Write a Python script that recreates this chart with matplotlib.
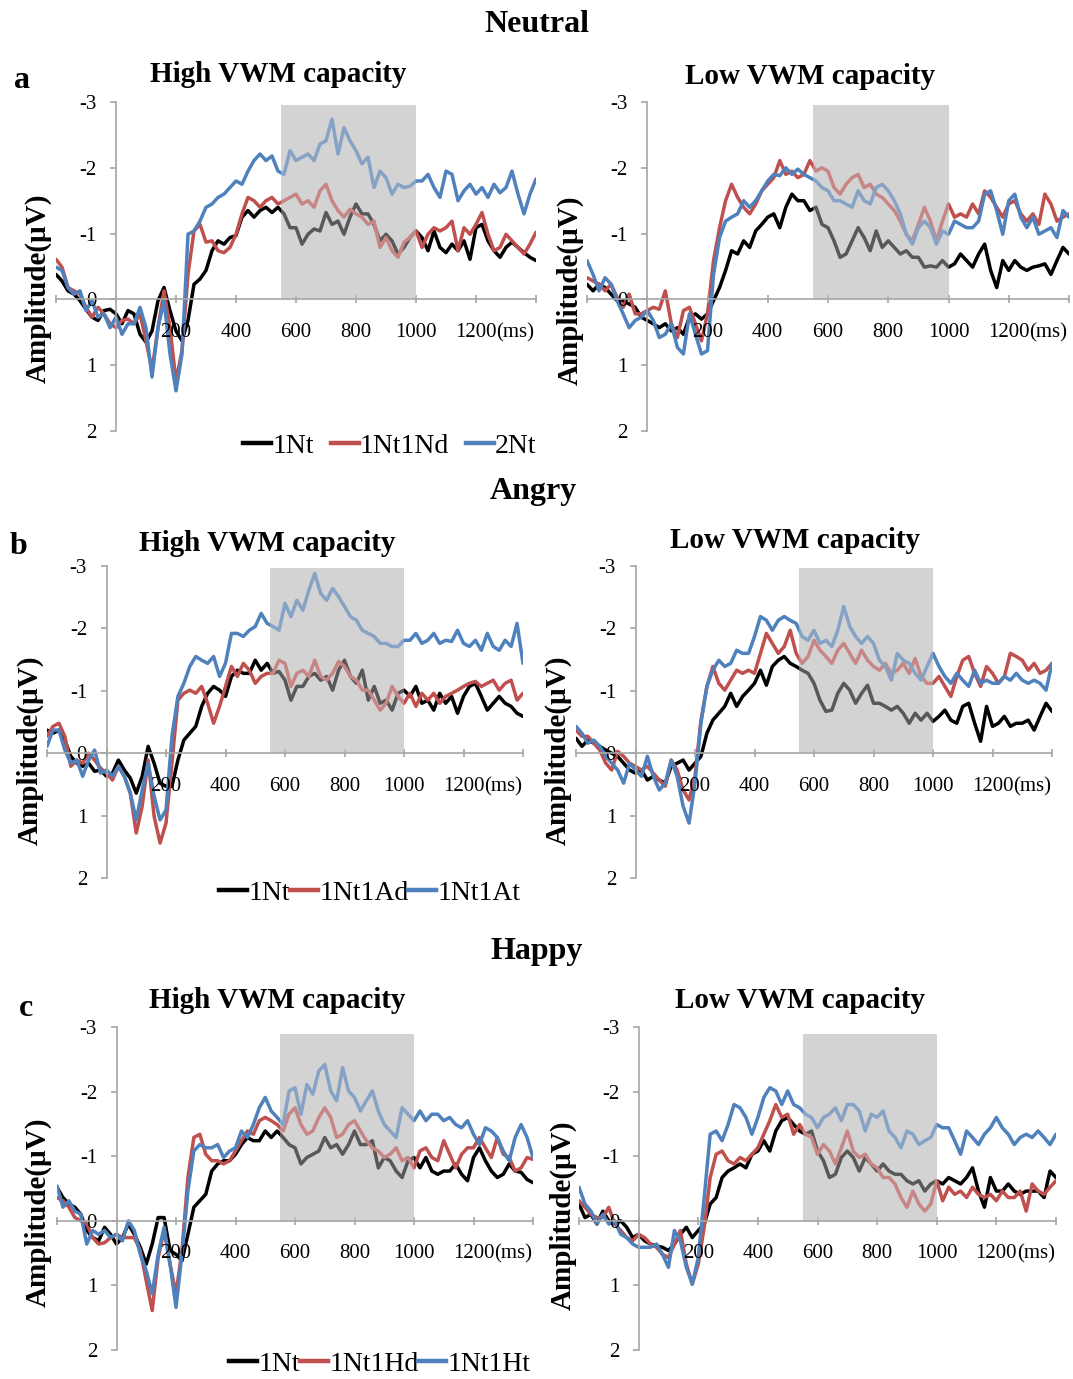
import matplotlib
matplotlib.use("Agg")
import matplotlib.pyplot as plt
from matplotlib.patches import Rectangle
from matplotlib.lines import Line2D
from matplotlib.transforms import offset_copy

plt.rcParams['font.family'] = ['Liberation Serif', 'DejaVu Serif']
plt.rcParams['axes.unicode_minus'] = False

# time axis of the ERP traces (ms), sampled every 20 ms
times = list(range(-200, 1401, 20))

# ---- Neutral, high VWM capacity
nh_1nt = [-0.38, -0.28, -0.13, -0.08, 0.02, 0.15, 0.27, 0.32, 0.17, 0.15,
          0.22, 0.37, 0.17, 0.22, 0.53, 0.65, 0.48, 0.02, -0.18, 0.17,
          0.48, 0.63, 0.32, -0.23, -0.31, -0.44, -0.74, -0.89, -0.84, -0.94,
          -0.97, -1.25, -1.35, -1.25, -1.35, -1.40, -1.32, -1.40, -1.30, -1.09,
          -1.09, -0.84, -0.99, -1.07, -1.04, -1.32, -1.14, -1.19, -0.99, -1.25,
          -1.45, -1.30, -1.30, -1.14, -0.89, -0.99, -0.89, -0.69, -0.79, -0.94,
          -1.04, -0.94, -0.74, -1.04, -0.79, -0.71, -0.84, -0.74, -0.89, -0.61,
          -1.09, -1.14, -0.89, -0.74, -0.64, -0.79, -0.87, -0.79, -0.71, -0.64,
          -0.59]
nh_1nt1nd = [-0.61, -0.49, -0.18, -0.13, -0.08, 0.12, 0.27, 0.12, 0.22, 0.37,
             0.43, 0.32, 0.30, 0.37, 0.22, 0.63, 1.08, 0.43, -0.13, 0.43,
             1.24, 0.78, -0.38, -1.04, -1.14, -0.87, -0.89, -0.74, -0.71, -0.79,
             -0.99, -1.30, -1.55, -1.50, -1.40, -1.50, -1.55, -1.45, -1.50, -1.55,
             -1.60, -1.45, -1.50, -1.40, -1.65, -1.75, -1.50, -1.35, -1.25, -1.37,
             -1.30, -1.25, -1.14, -1.19, -0.79, -0.94, -0.74, -0.64, -0.87, -0.94,
             -1.04, -0.79, -0.99, -1.09, -1.04, -1.09, -1.19, -0.74, -1.09, -0.99,
             -1.14, -1.32, -0.99, -0.74, -0.79, -0.99, -0.89, -0.79, -0.69, -0.84,
             -1.02]
nh_2nt = [-0.49, -0.44, -0.18, -0.08, -0.13, 0.17, 0.02, 0.27, 0.22, 0.43,
          0.27, 0.53, 0.37, 0.37, 0.12, 0.43, 1.18, 0.43, 0.02, 0.83,
          1.39, 0.83, -0.99, -1.04, -1.19, -1.40, -1.45, -1.55, -1.60, -1.70,
          -1.80, -1.75, -1.95, -2.11, -2.21, -2.11, -2.18, -1.95, -1.90, -2.26,
          -2.11, -2.16, -2.21, -2.11, -2.36, -2.41, -2.74, -2.21, -2.61, -2.41,
          -2.26, -2.06, -2.16, -1.70, -1.95, -1.85, -1.60, -1.75, -1.70, -1.72,
          -1.80, -1.80, -1.90, -1.70, -1.55, -1.95, -1.90, -1.50, -1.65, -1.75,
          -1.60, -1.70, -1.55, -1.75, -1.62, -1.70, -1.95, -1.60, -1.30, -1.60,
          -1.83]

# ---- Neutral, low VWM capacity
nl_1nt = [-0.23, -0.13, -0.23, -0.18, -0.08, 0.02, 0.02, 0.07, 0.12, 0.27,
          0.32, 0.37, 0.43, 0.37, 0.48, 0.43, 0.53, 0.27, 0.22, 0.30,
          0.22, 0.02, -0.18, -0.44, -0.74, -0.69, -0.89, -0.79, -1.04, -1.14,
          -1.25, -1.30, -1.09, -1.40, -1.60, -1.50, -1.50, -1.35, -1.40, -1.14,
          -1.09, -0.89, -0.64, -0.69, -0.89, -1.09, -0.94, -0.74, -1.04, -0.79,
          -0.89, -0.79, -0.69, -0.74, -0.64, -0.64, -0.49, -0.51, -0.49, -0.59,
          -0.49, -0.54, -0.69, -0.59, -0.49, -0.69, -0.84, -0.44, -0.18, -0.59,
          -0.44, -0.59, -0.49, -0.44, -0.49, -0.51, -0.54, -0.38, -0.59, -0.79,
          -0.69]
nl_1nt1nd = [-0.33, -0.28, -0.23, -0.13, -0.23, -0.03, 0.12, -0.08, 0.22, 0.22,
             0.17, 0.12, 0.15, -0.13, 0.37, 0.58, 0.17, 0.12, 0.37, 0.63,
             0.22, -0.59, -1.09, -1.50, -1.75, -1.55, -1.40, -1.30, -1.45, -1.65,
             -1.75, -1.85, -2.11, -1.90, -1.95, -1.85, -1.90, -2.11, -1.95, -2.00,
             -1.95, -1.70, -1.60, -1.75, -1.85, -1.90, -1.70, -1.75, -1.60, -1.55,
             -1.45, -1.35, -1.19, -0.99, -0.89, -1.14, -1.40, -1.19, -0.89, -1.19,
             -1.45, -1.25, -1.30, -1.25, -1.45, -1.30, -1.65, -1.55, -1.40, -1.25,
             -1.45, -1.50, -1.30, -1.19, -1.30, -1.14, -1.60, -1.45, -1.19, -1.25,
             -1.30]
nl_2nt = [-0.59, -0.38, -0.13, -0.33, -0.23, 0.02, 0.22, 0.43, 0.32, 0.27,
          0.17, 0.32, 0.58, 0.53, 0.37, 0.73, 0.83, 0.22, 0.53, 0.83,
          0.78, -0.38, -0.94, -1.19, -1.25, -1.30, -1.50, -1.40, -1.50, -1.65,
          -1.80, -1.90, -1.88, -2.00, -1.90, -1.98, -1.90, -1.85, -1.80, -1.70,
          -1.65, -1.50, -1.50, -1.45, -1.40, -1.65, -1.50, -1.45, -1.70, -1.75,
          -1.65, -1.50, -1.30, -0.99, -0.84, -1.09, -1.19, -1.09, -0.84, -1.04,
          -0.99, -1.19, -1.14, -1.09, -1.09, -1.19, -1.60, -1.65, -1.35, -0.99,
          -1.50, -1.60, -1.25, -1.09, -1.25, -0.99, -1.04, -1.09, -0.94, -1.35,
          -1.25]

# ---- Angry, high VWM capacity
ah_1nt = [-0.37, -0.32, -0.37, -0.21, 0.05, 0.16, 0.21, 0.16, 0.29, 0.27,
          0.37, 0.32, 0.11, 0.27, 0.40, 0.64, 0.37, -0.11, 0.16, 0.48,
          0.53, 0.53, 0.11, -0.21, -0.32, -0.43, -0.75, -0.96, -1.07, -1.01,
          -0.91, -1.23, -1.33, -1.28, -1.28, -1.49, -1.33, -1.44, -1.28, -1.31,
          -1.17, -0.85, -1.07, -1.07, -1.23, -1.28, -1.17, -1.23, -1.01, -1.33,
          -1.49, -1.23, -1.12, -1.33, -0.85, -1.07, -0.80, -0.85, -0.69, -0.96,
          -1.01, -0.91, -1.07, -0.80, -0.85, -0.69, -0.96, -0.80, -0.91, -0.64,
          -0.91, -1.07, -1.12, -0.91, -0.69, -0.80, -0.91, -0.80, -0.75, -0.64,
          -0.59]
ah_1nt1ad = [-0.27, -0.43, -0.48, -0.27, 0.21, 0.11, 0.16, 0.00, 0.11, 0.24,
             0.32, 0.43, 0.21, 0.37, 0.64, 1.28, 0.85, 0.11, 1.01, 1.44,
             1.12, 0.16, -0.85, -0.96, -1.01, -0.96, -1.07, -0.80, -0.48, -0.75,
             -1.07, -1.39, -1.23, -1.44, -1.33, -1.12, -1.23, -1.28, -1.28, -1.49,
             -1.44, -1.07, -1.28, -1.33, -1.23, -1.49, -1.23, -1.17, -1.28, -1.47,
             -1.39, -1.23, -1.17, -1.01, -1.01, -0.85, -0.69, -0.80, -1.07, -0.91,
             -0.80, -0.96, -0.75, -0.96, -0.85, -0.96, -0.80, -0.91, -0.96, -1.01,
             -1.07, -1.12, -1.15, -1.07, -1.12, -1.17, -1.01, -1.12, -1.17, -0.85,
             -0.96]
ah_1nt1at = [-0.11, -0.37, -0.37, -0.05, 0.16, 0.11, 0.37, 0.11, -0.05, 0.32,
             0.27, 0.37, 0.21, 0.37, 0.64, 1.07, 0.59, 0.16, 0.69, 1.07,
             0.91, -0.27, -0.91, -1.12, -1.39, -1.55, -1.49, -1.44, -1.55, -1.23,
             -1.44, -1.92, -1.92, -1.87, -1.97, -2.03, -2.24, -2.08, -2.03, -1.97,
             -2.40, -2.19, -2.45, -2.29, -2.61, -2.88, -2.56, -2.45, -2.64, -2.51,
             -2.35, -2.19, -2.13, -1.97, -1.92, -1.87, -1.76, -1.76, -1.71, -1.71,
             -1.81, -1.81, -1.92, -1.76, -1.81, -1.92, -1.76, -1.81, -1.79, -1.97,
             -1.76, -1.71, -1.81, -1.65, -1.92, -1.71, -1.65, -1.81, -1.71, -2.08,
             -1.44]

# ---- Angry, low VWM capacity
al_1nt = [-0.24, -0.11, -0.21, -0.16, -0.11, -0.05, 0.00, 0.05, 0.16, 0.27,
          0.32, 0.27, 0.43, 0.37, 0.43, 0.48, 0.21, 0.16, 0.11, 0.27,
          0.16, 0.05, -0.32, -0.53, -0.64, -0.75, -0.96, -0.75, -0.91, -1.01,
          -1.12, -1.33, -1.09, -1.39, -1.49, -1.55, -1.44, -1.39, -1.33, -1.28,
          -1.12, -0.85, -0.67, -0.69, -0.96, -1.12, -1.01, -0.80, -0.96, -1.09,
          -0.80, -0.80, -0.75, -0.69, -0.75, -0.64, -0.48, -0.64, -0.53, -0.64,
          -0.51, -0.59, -0.69, -0.53, -0.48, -0.75, -0.80, -0.48, -0.19, -0.75,
          -0.43, -0.48, -0.59, -0.43, -0.48, -0.48, -0.53, -0.37, -0.59, -0.80,
          -0.67]
al_1nt1ad = [-0.37, -0.27, -0.27, -0.16, -0.05, 0.16, 0.27, -0.03, 0.05, 0.16,
             0.21, 0.27, 0.21, 0.32, 0.43, 0.53, 0.11, 0.27, 0.59, 0.75,
             0.37, -0.53, -1.07, -1.39, -1.12, -1.01, -1.17, -1.33, -1.28, -1.33,
             -1.28, -1.60, -1.92, -1.76, -1.60, -1.71, -1.97, -1.60, -1.44, -1.55,
             -1.81, -1.65, -1.55, -1.44, -1.65, -1.76, -1.60, -1.44, -1.65, -1.49,
             -1.39, -1.33, -1.44, -1.28, -1.33, -1.44, -1.28, -1.52, -1.23, -1.12,
             -1.12, -1.23, -1.07, -0.91, -1.23, -1.49, -1.55, -1.28, -1.07, -1.39,
             -1.28, -1.12, -1.23, -1.60, -1.55, -1.49, -1.33, -1.44, -1.28, -1.33,
             -1.44]
al_1nt1at = [-0.43, -0.32, -0.16, -0.21, -0.11, 0.05, 0.16, 0.27, 0.48, 0.16,
             0.27, 0.37, 0.05, 0.37, 0.59, 0.48, 0.11, 0.37, 0.85, 1.12,
             0.48, -0.48, -1.07, -1.33, -1.49, -1.39, -1.44, -1.65, -1.60, -1.60,
             -1.87, -2.19, -2.13, -1.97, -2.13, -2.19, -2.13, -2.08, -1.87, -1.81,
             -1.97, -1.76, -1.81, -1.71, -1.97, -2.35, -2.03, -1.87, -1.76, -1.87,
             -1.76, -1.49, -1.39, -1.17, -1.60, -1.49, -1.44, -1.28, -1.17, -1.39,
             -1.60, -1.39, -1.23, -1.12, -1.28, -1.17, -1.07, -1.33, -1.12, -1.17,
             -1.12, -1.12, -1.23, -1.17, -1.28, -1.17, -1.12, -1.17, -1.12, -1.01,
             -1.44]

# ---- Happy, high VWM capacity
hh_1nt = [-0.52, -0.36, -0.26, -0.21, -0.10, 0.15, 0.26, 0.31, 0.10, 0.21,
          0.36, 0.26, 0.05, 0.21, 0.41, 0.67, 0.36, -0.05, -0.05, 0.46,
          0.52, 0.62, 0.21, -0.21, -0.31, -0.41, -0.77, -0.88, -0.93, -0.93,
          -1.03, -1.18, -1.29, -1.24, -1.24, -1.39, -1.29, -1.39, -1.29, -1.18,
          -1.13, -0.88, -0.98, -1.03, -1.08, -1.29, -1.13, -1.18, -1.03, -1.18,
          -1.39, -1.18, -1.18, -1.24, -0.82, -0.98, -0.93, -0.77, -0.67, -0.93,
          -0.98, -0.82, -0.98, -0.77, -0.72, -0.77, -0.77, -0.88, -0.72, -0.62,
          -0.98, -1.13, -0.93, -0.77, -0.67, -0.72, -0.88, -0.77, -0.75, -0.64,
          -0.59]
hh_1nt1hd = [-0.36, -0.31, -0.21, -0.05, 0.00, 0.05, 0.26, 0.36, 0.34, 0.26,
             0.21, 0.26, 0.26, 0.26, 0.46, 0.93, 1.39, 0.57, 0.15, 0.67,
             1.13, 0.46, -0.67, -1.29, -1.34, -1.03, -0.93, -0.93, -0.88, -0.93,
             -1.08, -1.24, -1.39, -1.34, -1.55, -1.60, -1.55, -1.49, -1.39, -1.65,
             -1.75, -1.49, -1.34, -1.39, -1.60, -1.75, -1.60, -1.29, -1.34, -1.49,
             -1.55, -1.39, -1.24, -1.13, -1.08, -0.98, -1.03, -1.13, -0.93, -0.98,
             -0.82, -1.08, -1.13, -0.98, -0.93, -1.24, -1.03, -0.82, -1.03, -1.13,
             -1.13, -1.29, -1.13, -0.98, -1.29, -1.03, -0.98, -0.77, -0.82, -0.98,
             -0.95]
hh_1nt1ht = [-0.54, -0.21, -0.31, -0.15, -0.10, 0.36, 0.15, 0.21, 0.15, 0.26,
             0.21, 0.31, 0.00, 0.15, 0.52, 0.77, 1.13, 0.52, 0.10, 0.67,
             1.34, 0.52, -0.46, -1.08, -1.18, -1.13, -1.13, -1.18, -0.98, -1.08,
             -1.13, -1.39, -1.29, -1.49, -1.75, -1.91, -1.70, -1.60, -1.49, -2.01,
             -2.06, -1.65, -2.11, -1.96, -2.32, -2.42, -2.01, -1.86, -2.37, -2.01,
             -1.91, -1.70, -1.86, -2.01, -1.70, -1.49, -1.39, -1.29, -1.75, -1.65,
             -1.55, -1.70, -1.55, -1.65, -1.65, -1.55, -1.60, -1.49, -1.44, -1.55,
             -1.34, -1.18, -1.44, -1.39, -1.29, -1.08, -0.93, -1.29, -1.49, -1.29,
             -0.98]

# ---- Happy, low VWM capacity
hl_1nt = [-0.26, -0.05, -0.10, 0.05, -0.15, 0.00, 0.05, 0.00, 0.10, 0.26,
          0.21, 0.31, 0.36, 0.39, 0.41, 0.46, 0.36, 0.21, 0.10, 0.26,
          0.15, 0.05, -0.26, -0.36, -0.67, -0.77, -0.82, -0.88, -0.82, -1.03,
          -1.08, -1.24, -1.08, -1.39, -1.55, -1.60, -1.49, -1.39, -1.34, -1.39,
          -1.08, -0.93, -0.67, -0.72, -0.98, -1.08, -0.98, -0.77, -0.98, -0.88,
          -0.77, -0.88, -0.77, -0.72, -0.72, -0.62, -0.57, -0.62, -0.46, -0.57,
          -0.62, -0.57, -0.67, -0.62, -0.57, -0.67, -0.82, -0.46, -0.21, -0.67,
          -0.46, -0.46, -0.57, -0.46, -0.41, -0.46, -0.46, -0.46, -0.36, -0.77,
          -0.67]
hl_1nt1hd = [-0.31, -0.21, -0.10, -0.05, -0.05, -0.21, 0.05, 0.15, 0.26, 0.31,
             0.21, 0.26, 0.36, 0.41, 0.52, 0.57, 0.36, 0.15, 0.67, 0.98,
             0.67, 0.10, -0.67, -1.03, -1.08, -0.93, -0.88, -0.98, -0.93, -1.03,
             -1.13, -1.34, -1.55, -1.80, -1.60, -1.65, -1.34, -1.49, -1.34, -1.29,
             -1.03, -1.18, -1.08, -0.88, -1.13, -1.39, -1.08, -0.98, -1.03, -0.88,
             -0.82, -0.67, -0.67, -0.57, -0.36, -0.21, -0.46, -0.26, -0.15, -0.26,
             -0.62, -0.31, -0.52, -0.41, -0.46, -0.36, -0.52, -0.41, -0.36, -0.41,
             -0.31, -0.46, -0.36, -0.36, -0.46, -0.15, -0.57, -0.46, -0.41, -0.52,
             -0.62]
hl_1nt1ht = [-0.52, -0.26, -0.15, 0.05, -0.10, 0.05, 0.00, 0.21, 0.26, 0.36,
             0.41, 0.41, 0.41, 0.36, 0.52, 0.72, 0.15, 0.31, 0.72, 0.98,
             0.57, -0.36, -1.34, -1.39, -1.24, -1.49, -1.80, -1.75, -1.60, -1.34,
             -1.60, -1.91, -2.06, -2.01, -1.80, -2.01, -1.80, -1.75, -1.65, -1.60,
             -1.44, -1.60, -1.65, -1.75, -1.55, -1.80, -1.80, -1.70, -1.39, -1.65,
             -1.60, -1.70, -1.39, -1.29, -1.13, -1.39, -1.34, -1.18, -1.24, -1.29,
             -1.49, -1.44, -1.44, -1.24, -1.03, -1.39, -1.29, -1.18, -1.34, -1.44,
             -1.60, -1.44, -1.34, -1.18, -1.29, -1.34, -1.29, -1.39, -1.29, -1.18,
             -1.34]

neutral_labels = ['1Nt', '1Nt1Nd', '2Nt']
angry_labels = ['1Nt', '1Nt1Ad', '1Nt1At']
happy_labels = ['1Nt', '1Nt1Hd', '1Nt1Ht']
x_ticks = [-200, 0, 200, 400, 600, 800, 1000, 1200, 1400]
x_ticklabels = ['', '', '200', '400', '600', '800', '1000', '1200', '']
y_ticks = [-3, -2, -1, 0, 1, 2]
window = (550, 1000)   # shaded time window (ms)

colors = ['#000000', '#C0504D', '#4F81BD']
shade = '#d3d3d3'
axis_col = '#a6a6a6'

W, H = 1073, 1379
fig = plt.figure(figsize=(W / 100, H / 100), dpi=100)


def px_axes(l, r, t, b):
    return fig.add_axes([l / W, 1 - b / H, (r - l) / W, (b - t) / H])


def panel(box, series, shade_top, label_xy):
    ax = px_axes(*box)
    ax.set_xlim(-200, 1400)
    ax.set_ylim(2, -3)
    ax.add_patch(Rectangle((window[0], 0), window[1] - window[0], shade_top,
                           facecolor=shade, edgecolor='none', zorder=0.5))
    for ys, c in zip(series, colors):
        ax.plot(times, ys, color=c, lw=2.5, zorder=2,
                solid_joinstyle='round', solid_capstyle='round')
    # translucent veil over the traces inside the window
    ax.add_patch(Rectangle((window[0], 0), window[1] - window[0], shade_top,
                           facecolor=shade, edgecolor='none', alpha=0.42, zorder=3))
    for s in ['top', 'right']:
        ax.spines[s].set_visible(False)
    ax.spines['left'].set_position(('data', 0))
    ax.spines['bottom'].set_position(('data', 0))
    for s in ['left', 'bottom']:
        ax.spines[s].set_color(axis_col)
        ax.spines[s].set_linewidth(1.2)
        ax.spines[s].set_zorder(4)
    ax.set_axisbelow(False)
    ax.set_xticks(x_ticks)
    ax.set_xticklabels(x_ticklabels)
    ax.set_yticks(y_ticks)
    ax.set_yticklabels([str(v) for v in y_ticks])
    ax.tick_params(axis='x', direction='inout', length=6, width=1.2,
                   color=axis_col, pad=14, labelsize=15)
    ax.tick_params(axis='y', direction='out', length=4, width=1.2,
                   color=axis_col, pad=10, labelsize=15)
    ax.patch.set_alpha(0)
    tr = offset_copy(ax.transData, fig=fig, y=-17, units='points')
    ax.text(1268, 0, '(ms)', transform=tr, ha='left', va='top', fontsize=15)
    fig.text(label_xy[0] / W, 1 - label_xy[1] / H, 'Amplitude(\u03bcV)',
             rotation=90, ha='center', va='center', fontsize=21,
             fontweight='bold')
    return ax


def ftext(x, y, s, **kw):
    fig.text(x / W, 1 - y / H, s, ha='center', va='center', **kw)


rows = [
    ('Neutral', (537, 24), 'a', (22, 81), -2.95,
     [(56, 536, 102, 431), (587, 1069, 102, 431)],
     [(278, 75), (810, 77)], [(38, 288), (570, 290)],
     [nh_1nt, nh_1nt1nd, nh_2nt], [nl_1nt, nl_1nt1nd, nl_2nt],
     neutral_labels, (390, 446), 0.6),
    ('Angry', (533, 492), 'b', (18, 547), -2.97,
     [(47, 523, 566, 878), (576, 1052, 566, 878)],
     [(267, 544), (795, 540)], [(30, 750), (558, 750)],
     [ah_1nt, ah_1nt1ad, ah_1nt1at], [al_1nt, al_1nt1ad, al_1nt1at],
     angry_labels, (370, 893), 0.0),
    ('Happy', (537, 951), 'c', (26, 1008), -2.89,
     [(57, 533, 1027, 1350), (579, 1056, 1027, 1350)],
     [(277, 1001), (800, 1001)], [(38, 1212), (563, 1215)],
     [hh_1nt, hh_1nt1hd, hh_1nt1ht], [hl_1nt, hl_1nt1hd, hl_1nt1ht],
     happy_labels, (380, 1364), 0.0),
]

for (head, head_xy, letter, let_xy, top, boxes, title_xy, amp_xy,
     high, low, labels, leg_xy, colsp) in rows:
    ftext(*head_xy, head, fontsize=23, fontweight='bold')
    ftext(*let_xy, letter, fontsize=23, fontweight='bold')
    panel(boxes[0], high, top, amp_xy[0])
    panel(boxes[1], low, top, amp_xy[1])
    ftext(*title_xy[0], 'High VWM capacity', fontsize=21, fontweight='bold')
    ftext(*title_xy[1], 'Low VWM capacity', fontsize=21, fontweight='bold')
    handles = [Line2D([], [], color=c, lw=3.2) for c in colors]
    fig.legend(handles, labels, loc='center', ncol=3, frameon=False,
               bbox_to_anchor=(leg_xy[0] / W, 1 - leg_xy[1] / H),
               fontsize=20, handlelength=1.0, handletextpad=0.05,
               columnspacing=colsp, borderpad=0, borderaxespad=0)

fig.savefig('out.png', dpi=100)
